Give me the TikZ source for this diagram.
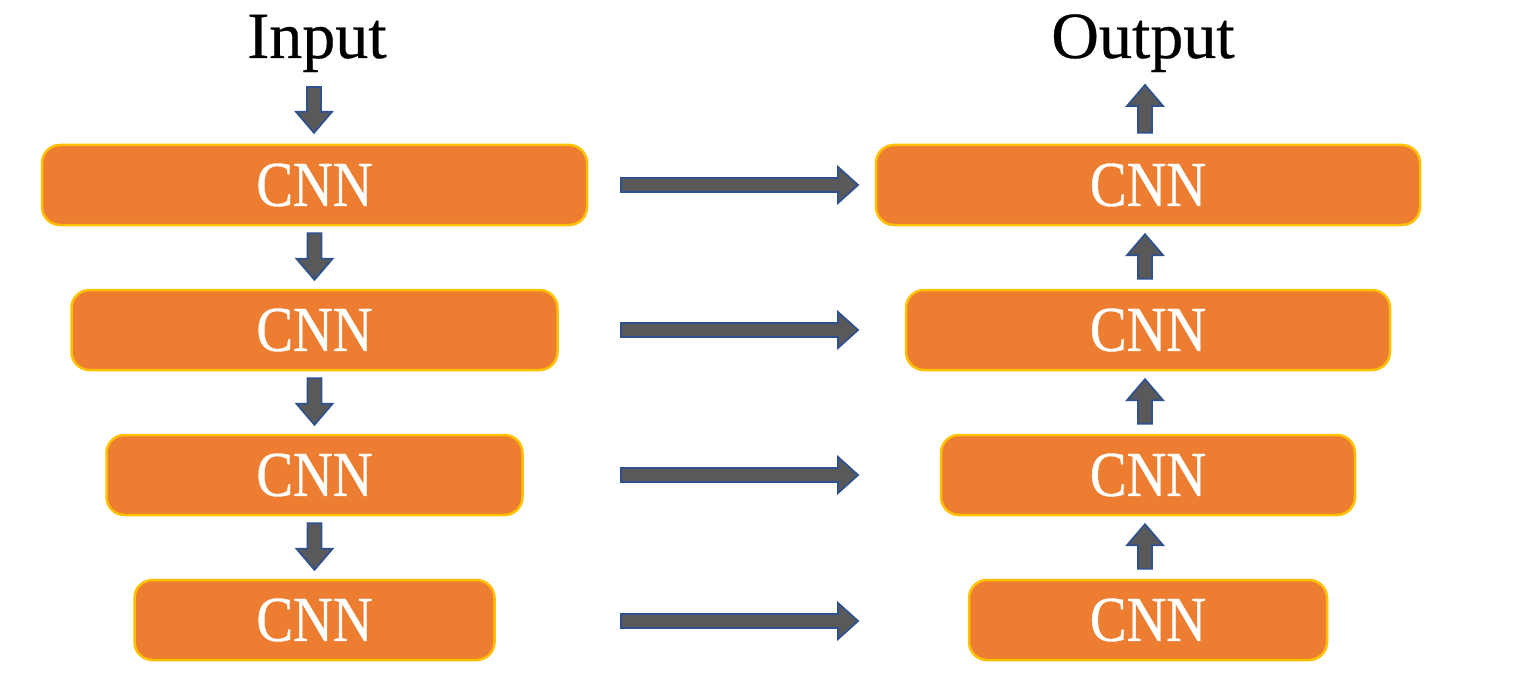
\documentclass[tikz,border=0pt]{standalone}
\usepackage{fontspec}
\setmainfont{Liberation Serif}
\newfontfamily\cnnfont[FakeStretch=0.86,FakeBold=0.6]{Liberation Serif}
\newfontfamily\titlefont[FakeBold=0.4]{Liberation Serif}
\usetikzlibrary{calc}
\definecolor{boxfill}{HTML}{ED7D31}
\definecolor{boxline}{HTML}{FFC000}
\definecolor{arrfill}{HTML}{595959}
\definecolor{arrline}{HTML}{2F528F}
\tikzset{
  cnnbox/.style={draw=boxline, line width=2.5pt, fill=boxfill, rounded corners=18pt,
    minimum height=80pt, inner sep=0pt, text=white,
    font=\cnnfont\fontsize{64}{70}\selectfont},
  title/.style={anchor=base, inner sep=0pt, font=\titlefont\fontsize{66}{72}\selectfont},
  barr/.style={draw=arrline, line width=1.8pt, fill=arrfill, line join=miter}
}
\newcommand{\harr}[2]{%
  \draw[barr] let \p1=(#1), \p2=(#2) in
    (\x1,\y1+7pt) -- (\x2-20pt,\y1+7pt) -- (\x2-20pt,\y1+18pt) -- (\x2,\y1)
    -- (\x2-20pt,\y1-18pt) -- (\x2-20pt,\y1-7pt) -- (\x1,\y1-7pt) -- cycle;}
\newcommand{\darr}[2]{%
  \draw[barr] let \p1=(#1), \p2=(#2) in
    (\x1-7pt,\y1) -- (\x1-7pt,\y2+21pt) -- (\x1-18pt,\y2+21pt) -- (\x1,\y2)
    -- (\x1+18pt,\y2+21pt) -- (\x1+7pt,\y2+21pt) -- (\x1+7pt,\y1) -- cycle;}
\newcommand{\uarr}[2]{%
  \draw[barr] let \p1=(#1), \p2=(#2) in
    (\x1-7pt,\y1) -- (\x1-7pt,\y2-21pt) -- (\x1-18pt,\y2-21pt) -- (\x1,\y2)
    -- (\x1+18pt,\y2-21pt) -- (\x1+7pt,\y2-21pt) -- (\x1+7pt,\y1) -- cycle;}
\begin{document}
\begin{tikzpicture}[x=1pt,y=-1pt]
\useasboundingbox (0,0) rectangle (1525,695);
% titles
\node[title] (in) at (317,58) {Input};
\node[title] (out) at (1143,58) {Output};
% left column
\node[cnnbox, minimum width=545pt] (L1) at (314.5,185) {CNN};
\node[cnnbox, minimum width=486pt] (L2) at (314.5,330) {CNN};
\node[cnnbox, minimum width=416pt] (L3) at (314.5,475) {CNN};
\node[cnnbox, minimum width=360pt] (L4) at (314.5,620) {CNN};
% right column
\node[cnnbox, minimum width=544pt] (R1) at (1148,185) {CNN};
\node[cnnbox, minimum width=484pt] (R2) at (1148,330) {CNN};
\node[cnnbox, minimum width=414pt] (R3) at (1148,475) {CNN};
\node[cnnbox, minimum width=358pt] (R4) at (1148,620) {CNN};
% arrow end points
\coordinate (i0) at (314,87);
\coordinate (i1) at ($(L1.north)+(0,-11)$);
\coordinate (o0) at ($(R1.north)+(-3,-11)$);
\coordinate (o1) at (1145,85);
\foreach \r/\y in {1/185,2/330,3/475,4/621}{
  \coordinate (hs\r) at (621,\y);
  \coordinate (ht\r) at (858,\y);
}
% input arrow
\darr{i0}{i1}
% down arrows
\foreach \a/\b in {L1/L2,L2/L3,L3/L4}{
  \coordinate (ds) at ($(\a.south)+(0,7)$);
  \coordinate (dt) at ($(\b.north)+(0,-9)$);
  \darr{ds}{dt}
}
% up arrows
\foreach \a/\b in {R2/R1,R3/R2,R4/R3}{
  \coordinate (us) at ($(\a.north)+(-3,-10)$);
  \coordinate (ut) at ($(\b.south)+(-3,8)$);
  \uarr{us}{ut}
}
\uarr{o0}{o1}
% horizontal arrows
\foreach \r in {1,2,3,4}{\harr{hs\r}{ht\r}}
\end{tikzpicture}
\end{document}
